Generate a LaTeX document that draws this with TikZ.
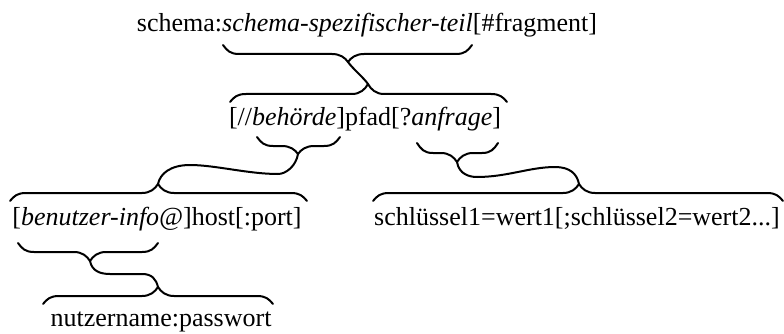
\documentclass[tikz,border=0pt]{standalone}
\usepackage{fontspec}
\setmainfont{Liberation Serif}
\begin{document}
\begin{tikzpicture}[x=1pt,y=-1pt,
  lbl/.style={anchor=base,inner sep=0pt,font=\fontsize{26}{30}\selectfont},
  bracestroke/.style={line width=2pt,line cap=round,line join=round}]
\useasboundingbox (0,0) rectangle (784,334);

% #1 left end x, #2 right end x, #3 tip x, #4 end y, #5 bar y, #6 tip y
\newcommand\curlybrace[6]{%
  \draw[bracestroke]
    (#1,#4) .. controls ({#1+4},{#4+0.6*(#5-#4)}) and ({#1+7},#5) .. ({#1+16},#5)
    -- ({#3-16},#5) .. controls ({#3-8},#5) and ({#3-3},{#5+0.45*(#6-#5)}) .. (#3,#6)
    .. controls ({#3+3},{#5+0.45*(#6-#5)}) and ({#3+8},#5) .. ({#3+16},#5)
    -- ({#2-16},#5) .. controls ({#2-7},#5) and ({#2-4},{#4+0.6*(#5-#4)}) .. (#2,#4);}

% text lines
\node[lbl] (l1)  at (367,32)  {schema:\textit{schema-spezifischer-teil}[\#fragment]};
\node[lbl] (l2)  at (365,125) {[//\textit{behörde}]pfad[?\textit{anfrage}]};
\node[lbl] (l3a) at (157,225) {[\textit{benutzer-info@}]host[:port]};
\node[lbl] (l3b) at (577,225) {schlüssel1=wert1[;schlüssel2=wert2...]};
\node[lbl] (l4)  at (161,326) {nutzername:passwort};

% brace tips
\coordinate (c1) at (348,62);
\coordinate (c2) at (368,84);
\coordinate (c3) at (298,154);
\coordinate (c4) at (158,184);
\coordinate (c5) at (457,162);
\coordinate (c6) at (579,184);
\coordinate (c7) at (90,261);
\coordinate (c8) at (158,287);

% braces
\curlybrace{223}{472}{348}{45}{54}{62}
\curlybrace{230}{507}{368}{102}{94}{84}
\curlybrace{257}{340}{298}{137}{146}{154}
\curlybrace{10}{307}{158}{201}{193}{184}
\curlybrace{417}{498}{457}{143}{153}{162}
\curlybrace{373}{783}{579}{201}{193}{184}
\curlybrace{18}{158}{90}{243}{252}{261}
\curlybrace{43}{273}{158}{304}{296}{287}

% links between brace tips
\draw[bracestroke] (c1) .. controls +(5,7) and +(-5,-7) .. (c2);
\draw[bracestroke] (c3) .. controls +(-2,12) and +(8,0) .. (278,174)
  .. controls +(-30,0) and +(25,0) .. (190,165)
  .. controls +(-20,0) and +(2,-10) .. (c4);
\draw[bracestroke] (c5) .. controls +(2,12) and +(-8,0) .. (477,177)
  .. controls +(30,0) and +(-25,0) .. (555,167)
  .. controls +(15,0) and +(-2,-10) .. (c6);
\draw[bracestroke] (c7) .. controls +(2,10) and +(-10,0) .. (110,274)
  -- (142,274) .. controls +(10,0) and +(-2,-8) .. (c8);
\end{tikzpicture}
\end{document}
